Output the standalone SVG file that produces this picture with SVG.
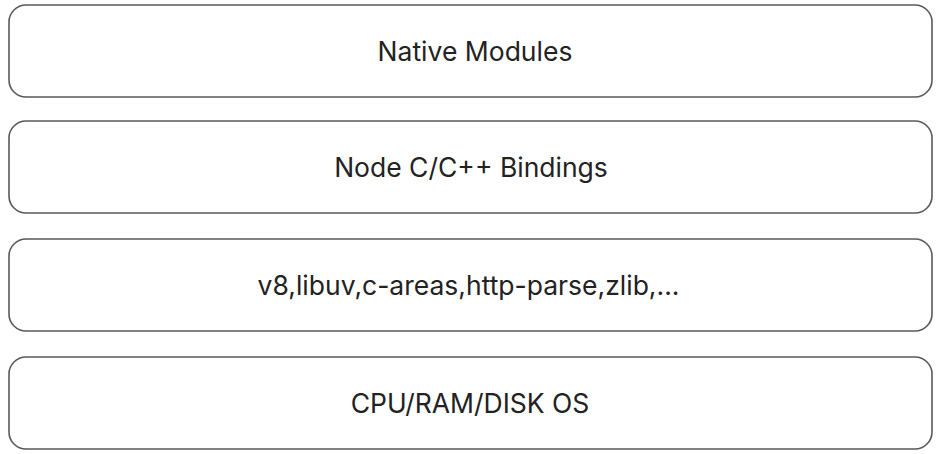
<svg xmlns="http://www.w3.org/2000/svg" width="946" height="454" viewBox="0 0 946 454">
  <style>
    .box { fill: #ffffff; stroke: #595959; stroke-width: 1.6; }
    .label { font-family: Inter, "Liberation Sans", Arial, sans-serif; font-size: 26.5px; fill: #222222; text-anchor: middle; }
  </style>
  <rect width="946" height="454" fill="#ffffff"/>
  <g id="connectors"></g>
  <g id="native-modules">
    <rect class="box" x="9" y="5" width="923" height="92" rx="17" ry="17"/>
    <text class="label" x="475" y="61">Native Modules</text>
  </g>
  <g id="node-bindings">
    <rect class="box" x="9" y="121" width="923" height="92" rx="17" ry="17"/>
    <text class="label" x="471" y="177">Node C/C++ Bindings</text>
  </g>
  <g id="libraries">
    <rect class="box" x="9" y="239" width="923" height="92" rx="17" ry="17"/>
    <text class="label" x="468.5" y="295">v8,libuv,c-areas,http-parse,zlib,...</text>
  </g>
  <g id="hardware-os">
    <rect class="box" x="9" y="357" width="923" height="92" rx="17" ry="17"/>
    <text class="label" x="470" y="413">CPU/RAM/DISK OS</text>
  </g>
</svg>
